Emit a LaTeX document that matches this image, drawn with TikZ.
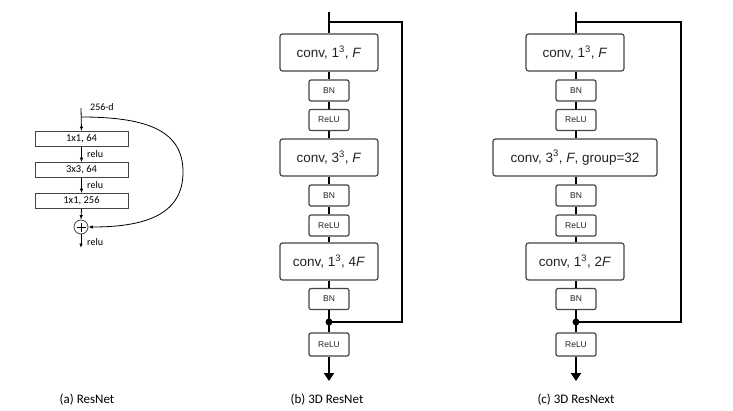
\documentclass[tikz,border=0pt]{standalone}
\usepackage{fontspec}
\setmainfont{Carlito}
\newfontfamily\nsans{Liberation Sans}
\usetikzlibrary{arrows.meta}
\definecolor{boxgray}{HTML}{444444}
\definecolor{txtgray}{HTML}{222222}
\tikzset{
  bigbox/.style={draw=boxgray, line width=1.2pt, rounded corners=2.5pt, minimum width=98pt, minimum height=37pt, inner sep=0pt, text=txtgray, font=\nsans\fontsize{13.5}{15}\selectfont},
  smallbox/.style={draw=boxgray, line width=1.2pt, rounded corners=2pt, minimum width=40pt, minimum height=21pt, inner sep=0pt, text=txtgray, font=\nsans\fontsize{8.5}{10}\selectfont},
  mainline/.style={line width=2.4pt, black},
  skipline/.style={line width=2.7pt, black},
  abox/.style={draw=boxgray, line width=0.8pt, minimum width=93pt, minimum height=15pt, inner sep=0pt, font=\fontsize{10.5}{12}\selectfont},
  aarrow/.style={line width=0.8pt, -{Latex[length=4.5pt,width=3.5pt]}},
  albl/.style={font=\fontsize{10}{11}\selectfont, anchor=west, inner sep=0pt},
  caption/.style={font=\fontsize{13}{15}\selectfont},
  bigarrow/.style={mainline, -{Triangle[length=8pt,width=10pt]}}
}
\begin{document}
\begin{tikzpicture}[x=1pt,y=-1pt]
\useasboundingbox (0,0) rectangle (733,410);

% ---------------- (a) ResNet ----------------
\coordinate (aTop) at (81,108);
\coordinate (aJ) at (81,117);
\node[abox] (a1) at (81.5,139) {1x1, 64};
\node[abox] (a2) at (81.5,170) {3x3, 64};
\node[abox] (a3) at (81.5,201) {1x1, 256};
\node[draw=boxgray, line width=0.8pt, circle, minimum size=14pt, inner sep=0pt] (aplus) at (81,227) {};
\draw[line width=0.8pt] ([yshift=4.5pt]aplus.center) -- ([yshift=-4.5pt]aplus.center)
  ([xshift=-4.5pt]aplus.center) -- ([xshift=4.5pt]aplus.center);
\coordinate (aEnd) at (81,248);
\node[anchor=west, inner sep=0pt, font=\fontsize{10}{11}\selectfont] (a256) at (90,107) {256-d};
\draw[aarrow] (aTop) -- (a1.north);
\draw[aarrow] (a1.south) -- (a2.north);
\draw[aarrow] (a2.south) -- (a3.north);
\draw[aarrow] (a3.south) -- (aplus.north);
\draw[aarrow] (aplus.south) -- (aEnd);
\node[albl] (ar1) at (87,154.5) {relu};
\node[albl] (ar2) at (87,185.5) {relu};
\node[albl] (ar3) at (87,242) {relu};
\draw[aarrow] (aJ) .. controls (150,117) and (183,132) .. (183,172)
  .. controls (183,212) and (150,227) .. (aplus.east);
\node[caption] (capa) at (87,400) {(a) ResNet};

% ---------------- (b) 3D ResNet ----------------
\coordinate (bTop) at (329,12);
\coordinate (bJ) at (329,22);
\coordinate (bC1) at (402,22);
\coordinate (bC2) at (402,322);
\node[bigbox] (b1) at (329,52.5) {conv, 1\textsuperscript{3}, \textit{F}};
\node[smallbox] (bbn1) at (329,90.5) {BN};
\node[smallbox] (brl1) at (329,120) {ReLU};
\node[bigbox] (b2) at (329,157.5) {conv, 3\textsuperscript{3}, \textit{F}};
\node[smallbox] (bbn2) at (329,195.5) {BN};
\node[smallbox] (brl2) at (329,225.5) {ReLU};
\node[bigbox] (b3) at (329,261.5) {conv, 1\textsuperscript{3}, 4\textit{F}};
\node[smallbox] (bbn3) at (329,299) {BN};
\node[circle, fill=black, minimum size=7pt, inner sep=0pt] (bdot) at (329,322) {};
\node[smallbox, minimum height=23pt] (brl3) at (329,344.5) {ReLU};
\coordinate (bEnd) at (329,381);
\draw[mainline] (bTop) -- (b1.north);
\draw[mainline] (b1.south) -- (bbn1.north);
\draw[mainline] (bbn1.south) -- (brl1.north);
\draw[mainline] (brl1.south) -- (b2.north);
\draw[mainline] (b2.south) -- (bbn2.north);
\draw[mainline] (bbn2.south) -- (brl2.north);
\draw[mainline] (brl2.south) -- (b3.north);
\draw[mainline] (b3.south) -- (bbn3.north);
\draw[mainline] (bbn3.south) -- (bdot.center) -- (brl3.north);
\draw[bigarrow] (brl3.south) -- (bEnd);
\draw[skipline, line join=miter] (bJ) -- (bC1) -- (bC2) -- (bdot.center);
\node[caption] (capb) at (327,400) {(b) 3D ResNet};

% ---------------- (c) 3D ResNext ----------------
\coordinate (cTop) at (576,12);
\coordinate (cJ) at (576,22);
\coordinate (cC1) at (681,22);
\coordinate (cC2) at (681,322);
\node[bigbox] (c1) at (575,52.5) {conv, 1\textsuperscript{3}, \textit{F}};
\node[smallbox] (cbn1) at (576,90.5) {BN};
\node[smallbox] (crl1) at (576,120) {ReLU};
\node[bigbox, minimum width=164pt] (c2) at (575,157.5) {conv, 3\textsuperscript{3}, \textit{F}, group=32};
\node[smallbox] (cbn2) at (576,195.5) {BN};
\node[smallbox] (crl2) at (576,225.5) {ReLU};
\node[bigbox] (c3) at (575,261.5) {conv, 1\textsuperscript{3}, 2\textit{F}};
\node[smallbox] (cbn3) at (576,299) {BN};
\node[circle, fill=black, minimum size=7pt, inner sep=0pt] (cdot) at (576,322) {};
\node[smallbox, minimum height=23pt] (crl3) at (576,344.5) {ReLU};
\coordinate (cEnd) at (576,381);
\draw[mainline] (cTop) -- (c1.north -| cTop);
\draw[mainline] (c1.south -| cTop) -- (cbn1.north);
\draw[mainline] (cbn1.south) -- (crl1.north);
\draw[mainline] (crl1.south) -- (c2.north -| cTop);
\draw[mainline] (c2.south -| cTop) -- (cbn2.north);
\draw[mainline] (cbn2.south) -- (crl2.north);
\draw[mainline] (crl2.south) -- (c3.north -| cTop);
\draw[mainline] (c3.south -| cTop) -- (cbn3.north);
\draw[mainline] (cbn3.south) -- (cdot.center) -- (crl3.north);
\draw[bigarrow] (crl3.south) -- (cEnd);
\draw[skipline, line join=miter] (cJ) -- (cC1) -- (cC2) -- (cdot.center);
\node[caption] (capc) at (576,400) {(c) 3D ResNext};
\end{tikzpicture}
\end{document}
